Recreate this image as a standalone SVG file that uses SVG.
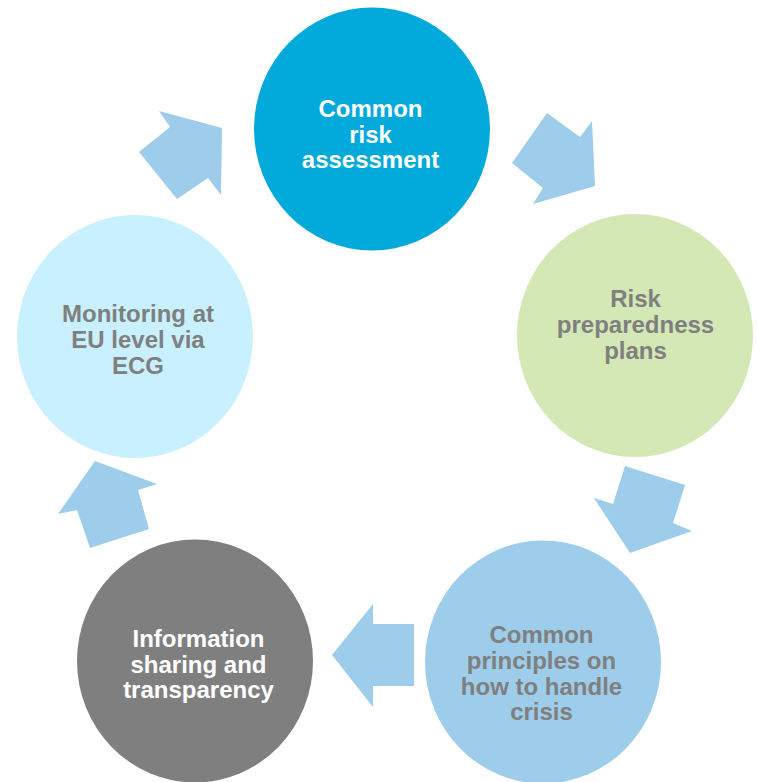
<svg xmlns="http://www.w3.org/2000/svg" width="757" height="782" viewBox="0 0 757 782">
<style>
text{font-family:"Liberation Sans",Arial,sans-serif;font-weight:bold;font-size:24px;text-anchor:middle}
.w{fill:#FFFFFF}
.g{fill:#7F7F7F}
.arrow{fill:#9DCDEA}
</style>
<rect width="757" height="782" fill="#FFFFFF"/>
<g id="connectors">
<polygon class="arrow" points="159,111 170,127 139,152 177,199 208,178 221,195 222,128"/>
<polygon class="arrow" points="547,113 580,137 592,121 595,186 533,204 543,188 512,163"/>
<polygon class="arrow" points="625,466 685,485 673,523 692,531 630,553 594,498 613,504"/>
<polygon class="arrow" points="373,604 373,624 414,624 414,686 373,686 373,707 332,655"/>
<polygon class="arrow" points="95,461 157,484 138,490 149,529 90,548 77,510 58,514"/>
</g>
<g id="node-risk-assessment">
<ellipse cx="372" cy="129" rx="118" ry="121.5" fill="#02A9DB"/>
<text class="w" x="370.5" y="117">Common</text>
<text class="w" x="370.5" y="143">risk</text>
<text class="w" x="370.5" y="168">assessment</text>
</g>
<g id="node-preparedness">
<ellipse cx="635" cy="335.5" rx="118" ry="121.5" fill="#D3E8B5"/>
<text class="g" x="635.5" y="307">Risk</text>
<text class="g" x="635.5" y="333">preparedness</text>
<text class="g" x="635.5" y="359">plans</text>
</g>
<g id="node-crisis">
<ellipse cx="543" cy="662" rx="118" ry="121.5" fill="#9DCDEA"/>
<text class="g" x="541.5" y="643">Common</text>
<text class="g" x="541.5" y="669">principles on</text>
<text class="g" x="541.5" y="694.5">how to handle</text>
<text class="g" x="541.5" y="720">crisis</text>
</g>
<g id="node-information">
<ellipse cx="195" cy="661" rx="118" ry="121.5" fill="#7F7F7F"/>
<text class="w" x="198.5" y="646.5">Information</text>
<text class="w" x="198.5" y="672.5">sharing and</text>
<text class="w" x="198.5" y="698">transparency</text>
</g>
<g id="node-monitoring">
<ellipse cx="135" cy="336.5" rx="118" ry="121.5" fill="#C9F0FE"/>
<text class="g" x="138" y="322">Monitoring at</text>
<text class="g" x="138" y="348">EU level via</text>
<text class="g" x="138" y="373.5">ECG</text>
</g>
</svg>
